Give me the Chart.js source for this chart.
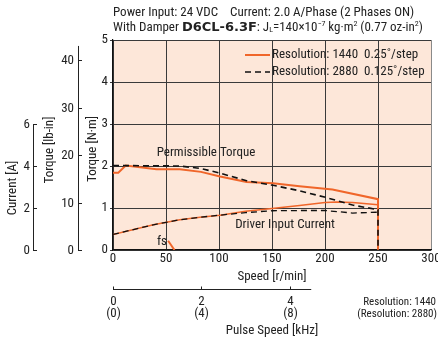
<!DOCTYPE html>
<html>
<head>
<meta charset="utf-8">
<script src="https://cdn.jsdelivr.net/npm/chart.js@4.4.1/dist/chart.umd.min.js"></script>
<style>
  html, body { margin: 0; padding: 0; background: #fff; }
  #wrap { width: 438px; height: 343px; position: relative; }
</style>
</head>
<body>
<div id="wrap"><canvas id="torqueChart" width="438" height="343"></canvas></div>
<script>
// speed [r/min] vs torque [N·m], two resolutions
var speed1440 = [0, 5, 12, 41, 63, 83, 101, 126, 151, 176, 207, 250, 250];
var torque1440 = [1.84, 1.84, 2.01, 1.92, 1.92, 1.86, 1.75, 1.62, 1.59, 1.52, 1.44, 1.21, 0];
var speed2880 = [0, 12, 63, 83, 101, 126, 151, 176, 201, 226, 250, 250];
var torque2880 = [2.01, 2.01, 2.0, 1.94, 1.83, 1.65, 1.54, 1.41, 1.25, 1.07, 0.96, 0];

// driver input current [A]
var speedCur1440 = [0, 38, 63, 82, 101, 125, 150, 176, 200, 211, 226, 250];
var current1440 = [0.74, 1.2, 1.44, 1.56, 1.66, 1.84, 1.98, 2.12, 2.26, 2.28, 2.26, 2.16];
var speedCur2880 = [0, 38, 63, 82, 101, 125, 150, 176, 200, 226, 250];
var current2880 = [0.74, 1.2, 1.44, 1.56, 1.66, 1.78, 1.87, 1.88, 1.88, 1.76, 1.8];

// start frequency fs
var speedFs = [52, 58];
var torqueFs = [0.22, 0];

var speedTicks = [0, 50, 100, 150, 200, 250, 300];
var torqueTicks = [0, 1, 2, 3, 4, 5];
var lbinTicks = [0, 10, 20, 30, 40];
var ampTicks = [0, 2, 4, 6];
var khzTicks = [0, 2, 4];
var khzLabels2880 = ['(0)', '(4)', '(8)'];

var ORANGE = '#f0662a';
var PEACH = '#fde7d9';
var FONT = "'Liberation Sans Narrow', 'Roboto Condensed', 'DejaVu Sans Condensed', 'Liberation Sans', sans-serif";

function pts(xs, ys) {
    var out = [];
    for (var i = 0; i < xs.length; i++) out.push({ x: xs[i], y: ys[i] });
    return out;
}

var decor = {
    id: 'decor',
    beforeDraw: function (chart) {
        var a = chart.chartArea, ctx = chart.ctx;
        ctx.save();
        ctx.fillStyle = PEACH;
        ctx.fillRect(a.left, a.top, a.right - a.left, a.bottom - a.top);
        ctx.restore();
    },
    afterDraw: function (chart) {
        var ctx = chart.ctx, a = chart.chartArea;
        var xs = chart.scales.x, yLb = chart.scales.yLb, yA = chart.scales.yA;
        ctx.save();
        ctx.fillStyle = '#222';
        ctx.strokeStyle = '#222';
        ctx.lineWidth = 1;
        ctx.textBaseline = 'middle';

        // heading
        ctx.font = '13px ' + FONT;
        ctx.textAlign = 'left';
        ctx.fillText('Power Input: 24 VDC    Current: 2.0 A/Phase (2 Phases ON)', 113, 13);
        var x = 113, y = 28;
        function part(t, font, dy) {
            ctx.font = font;
            ctx.fillText(t, x, y + (dy || 0));
            x += ctx.measureText(t).width;
        }
        part('With Damper ', '13px ' + FONT);
        part('D6CL-6.3F', 'bold 13px DejaVu Sans');
        part(': J', '13px ' + FONT);
        part('L', '8px ' + FONT, 2);
        part('=140\u00d710', '13px ' + FONT);
        part('\u22127', '8px ' + FONT, -4);
        part(' kg\u00b7m', '13px ' + FONT);
        part('2', '8px ' + FONT, -4);
        part(' (0.77 oz-in', '13px ' + FONT);
        part('2', '8px ' + FONT, -4);
        part(')', '13px ' + FONT);

        // legend
        ctx.font = '13px ' + FONT;
        ctx.lineWidth = 2;
        ctx.strokeStyle = ORANGE;
        ctx.beginPath(); ctx.moveTo(245, 55); ctx.lineTo(270, 55); ctx.stroke();
        ctx.strokeStyle = '#111';
        ctx.lineWidth = 1.6;
        ctx.setLineDash([6, 4]);
        ctx.beginPath(); ctx.moveTo(245, 72); ctx.lineTo(270, 72); ctx.stroke();
        ctx.setLineDash([]);
        ctx.fillText('Resolution: 1440  0.25\u02da/step', 272, 55);
        ctx.fillText('Resolution: 2880  0.125\u02da/step', 272, 72);

        // curve labels
        ctx.textAlign = 'center';
        ctx.fillText('Permissible Torque', 206, 153);
        ctx.fillText('Driver Input Current', 285, 225);
        ctx.fillText('fs', 162, 242);

        // secondary left axes
        ctx.strokeStyle = '#222';
        ctx.lineWidth = 1;
        ctx.textAlign = 'right';
        var lx = 78;
        ctx.beginPath(); ctx.moveTo(lx + 0.5, yLb.getPixelForValue(0)); ctx.lineTo(lx + 0.5, yLb.getPixelForValue(43)); ctx.stroke();
        lbinTicks.forEach(function (v) {
            var py = Math.round(yLb.getPixelForValue(v)) + 0.5;
            ctx.beginPath(); ctx.moveTo(lx, py); ctx.lineTo(lx + 4, py); ctx.stroke();
            ctx.fillText(String(v), lx - 4, py);
        });
        var ax = 33;
        ctx.beginPath(); ctx.moveTo(ax + 0.5, yA.getPixelForValue(0)); ctx.lineTo(ax + 0.5, yA.getPixelForValue(6)); ctx.stroke();
        ampTicks.forEach(function (v) {
            var py = Math.round(yA.getPixelForValue(v)) + 0.5;
            ctx.beginPath(); ctx.moveTo(ax, py); ctx.lineTo(ax + 4, py); ctx.stroke();
            ctx.fillText(String(v), ax - 3, py);
        });

        // rotated axis titles
        function vtext(t, cx, cy) {
            ctx.save();
            ctx.translate(cx, cy);
            ctx.rotate(-Math.PI / 2);
            ctx.textAlign = 'center';
            ctx.fillText(t, 0, 0);
            ctx.restore();
        }
        vtext('Current [A]', 13, 188);
        vtext('Torque [lb-in]', 50, 150);
        vtext('Torque [N\u00b7m]', 93, 149);

        // speed title and pulse speed axis
        ctx.textAlign = 'center';
        ctx.fillText('Speed [r/min]', (a.left + a.right) / 2, 277);
        var by = 289.5;
        var khzToRpm = 60000 / 1440 / 1000 * 1000 / 1000;
        ctx.beginPath(); ctx.moveTo(xs.getPixelForValue(0), by); ctx.lineTo(xs.getPixelForValue(187), by); ctx.stroke();
        khzTicks.forEach(function (k, i) {
            var px = Math.round(xs.getPixelForValue(k * 1000 * 60 / 1440)) + 0.5;
            ctx.beginPath(); ctx.moveTo(px, by); ctx.lineTo(px, by - 3); ctx.stroke();
            ctx.fillText(String(k), px, 302);
            ctx.fillText(khzLabels2880[i], px, 314);
        });
        ctx.fillText('Pulse Speed [kHz]', (a.left + a.right) / 2, 331);
        ctx.font = '11px ' + FONT;
        ctx.textAlign = 'right';
        ctx.fillText('Resolution: 1440', 436, 302);
        ctx.fillText('(Resolution: 2880)', 437, 314);
        ctx.restore();
    }
};

Chart.defaults.font.family = FONT;
Chart.defaults.font.size = 13;
Chart.defaults.color = '#222';

var ctx = document.getElementById('torqueChart').getContext('2d');
var chart = new Chart(ctx, {
    type: 'line',
    data: {
        datasets: [
            { label: 'Resolution: 2880 torque', data: pts(speed2880, torque2880), borderColor: '#111', borderWidth: 1.6, borderDash: [6, 4], order: 0 },
            { label: 'Resolution: 2880 current', data: pts(speedCur2880, current2880), yAxisID: 'yA', borderColor: '#111', borderWidth: 1.3, borderDash: [6, 4], order: 0 },
            { label: 'Resolution: 1440 torque', data: pts(speed1440, torque1440), borderColor: ORANGE, borderWidth: 2, order: 1 },
            { label: 'Resolution: 1440 current', data: pts(speedCur1440, current1440), yAxisID: 'yA', borderColor: ORANGE, borderWidth: 1.5, order: 1 },
            { label: 'fs', data: pts(speedFs, torqueFs), borderColor: ORANGE, borderWidth: 2, order: 1 }
        ]
    },
    options: {
        responsive: false,
        animation: false,
        events: [],
        elements: { point: { radius: 0 }, line: { tension: 0, fill: false } },
        layout: { padding: { left: 0, right: 7, top: 40, bottom: 0 } },
        plugins: { legend: { display: false }, tooltip: { enabled: false } },
        scales: {
            x: {
                type: 'linear', min: 0, max: 300,
                afterBuildTicks: function (s) { s.ticks = speedTicks.map(function (v) { return { value: v }; }); },
                afterFit: function (s) { s.height = 93; s.paddingLeft = 0; s.paddingRight = 0; },
                ticks: { padding: 1, maxRotation: 0, font: { size: 13 } },
                grid: { color: function (c) { return c.tick && c.tick.value === 300 ? '#8a8a8a' : '#3a3a3a'; }, lineWidth: 1, drawTicks: false },
                border: { color: '#111', width: 1.2 }
            },
            y: {
                min: 0, max: 5,
                afterBuildTicks: function (s) { s.ticks = torqueTicks.map(function (v) { return { value: v }; }); },
                afterFit: function (s) { s.width = 113; s.paddingTop = 0; s.paddingBottom = 0; },
                ticks: { padding: 2, font: { size: 13 } },
                grid: { color: '#3a3a3a', lineWidth: 1, tickLength: 3 },
                border: { color: '#111', width: 1.2 }
            },
            yLb: { display: false, min: 0, max: 5 * 8.8507 },
            yA: { display: false, min: 0, max: 10 }
        }
    },
    plugins: [decor]
});
</script>
</body>
</html>
